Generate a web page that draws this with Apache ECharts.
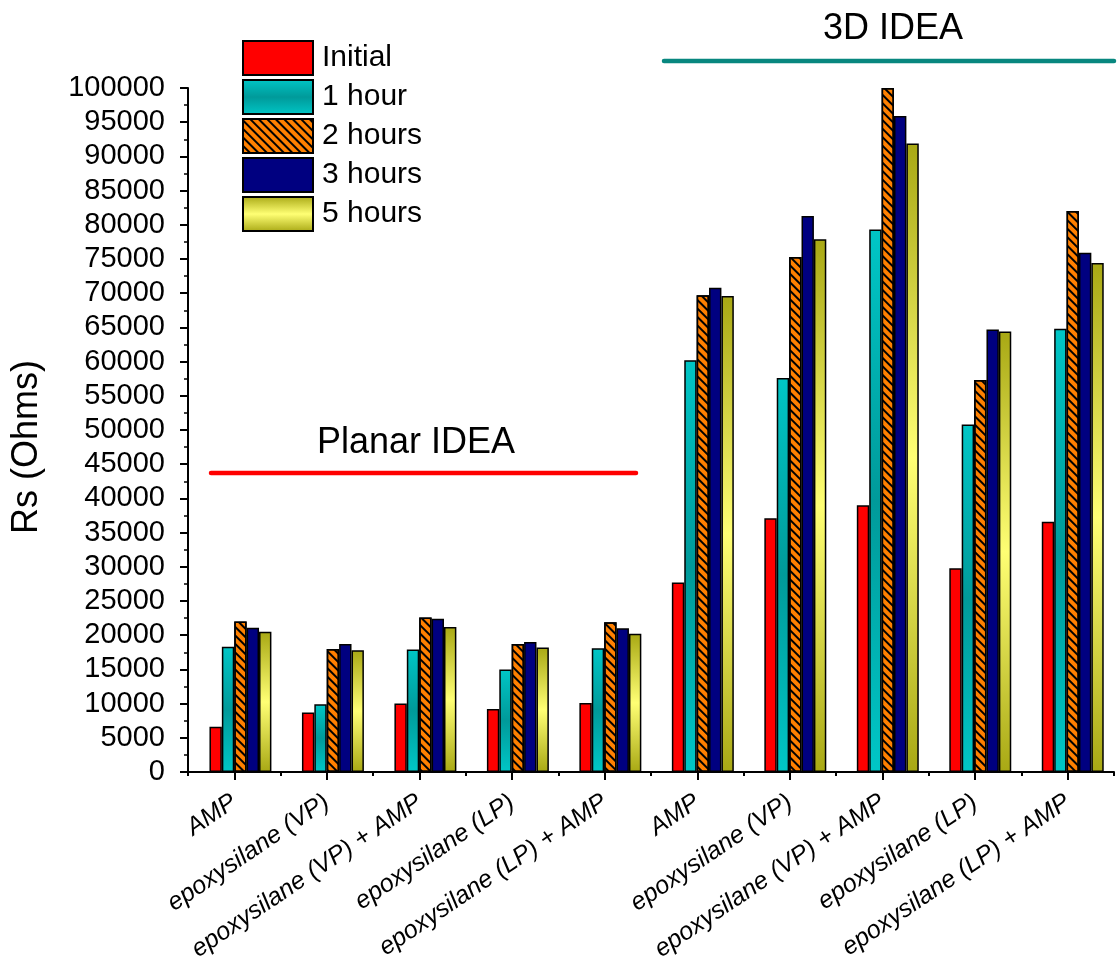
<!DOCTYPE html>
<html>
<head>
<meta charset="utf-8">
<title>Rs (Ohms)</title>
<script src="https://cdn.jsdelivr.net/npm/echarts@6/dist/echarts.min.js"></script>
<style>
  html, body { margin: 0; padding: 0; background: #ffffff; }
  #chart { width: 1119px; height: 972px; }
</style>
</head>
<body>
<div id="chart"></div>
<script>
// Sample treatments: first five on planar IDEA electrodes, last five on 3D IDEA electrodes
const categories = [
  'AMP', 'epoxysilane (VP)', 'epoxysilane (VP) + AMP', 'epoxysilane (LP)', 'epoxysilane (LP) + AMP',
  'AMP', 'epoxysilane (VP)', 'epoxysilane (VP) + AMP', 'epoxysilane (LP)', 'epoxysilane (LP) + AMP'
];
const seriesNames = ['Initial', '1 hour', '2 hours', '3 hours', '5 hours'];

// Rs in Ohms for each time point
const initialValues = [6600, 8700, 10000, 9200, 10100, 27700, 37100, 39000, 29800, 36600];
const hour1Values   = [18300, 9900, 17900, 15000, 18100, 60200, 57600, 79300, 50800, 64800];
const hours2Values  = [22000, 18000, 22600, 18700, 21900, 69700, 75300, 100000, 57300, 82000];
const hours3Values  = [21100, 18700, 22400, 19000, 21000, 70800, 81300, 95900, 64700, 75900];
const hours5Values  = [20500, 17800, 21200, 18200, 20200, 69600, 77900, 91900, 64400, 74400];

// Value axis range and tick step
const yMin = 0;
const yMax = 100000;
const yStep = 5000;

const groupLabels = { planar: 'Planar IDEA', threeD: '3D IDEA' };
const yTitle = 'Rs (Ohms)';

const FONT = '"Liberation Sans", Arial, Helvetica, sans-serif';

const chart = echarts.init(document.getElementById('chart'), null, { renderer: 'canvas' });

// Plot frame shared by the visible axes and the (half-bar shifted) bar grid
const plotLeft = 188;
const plotWidth = 926;
const plotTop = 88;
const plotHeight = 684;
const barShift = 6.2;

const edge = { borderColor: '#000000', borderWidth: 1.5 };

function vGrad(stops) {
  return {
    type: 'linear', x: 0, y: 0, x2: 0, y2: 1,
    colorStops: stops.map((c, i) => ({ offset: i / (stops.length - 1), color: c }))
  };
}

function barSeries(name, data, style) {
  return {
    name: name,
    type: 'bar',
    xAxisIndex: 2,
    yAxisIndex: 1,
    data: data,
    barGap: '0%',
    barCategoryGap: '33%',
    itemStyle: Object.assign({}, edge, style),
    emphasis: { disabled: true }
  };
}

const series = [
  barSeries(seriesNames[0], initialValues, { color: '#ff0000' }),
  barSeries(seriesNames[1], hour1Values, { color: vGrad(['#00c6c6', '#009a9a', '#00c6c6']) }),
  barSeries(seriesNames[2], hours2Values, {
    color: '#ff8000',
    decal: {
      symbol: 'rect',
      symbolSize: 1,
      dashArrayX: [1, 0],
      dashArrayY: [2, 4],
      rotation: Math.PI / 4,
      color: '#000000'
    }
  }),
  barSeries(seriesNames[3], hours3Values, { color: '#000080' }),
  barSeries(seriesNames[4], hours5Values, { color: vGrad(['#a8a814', '#ffff74', '#a8a814']) })
];

const axisLineStyle = { color: '#000000', width: 2 };

const option = {
  backgroundColor: '#ffffff',
  animation: false,
  textStyle: { fontFamily: FONT, color: '#000000' },
  legend: {
    data: seriesNames,
    orient: 'vertical',
    left: 242,
    top: 40,
    padding: 0,
    icon: 'rect',
    itemWidth: 70,
    itemHeight: 34,
    itemGap: 3,
    selectedMode: false,
    itemStyle: { borderColor: '#000000', borderWidth: 2 },
    textStyle: { fontFamily: FONT, fontSize: 30, color: '#000000', padding: [0, 0, 0, 4] }
  },
  grid: [
    { left: plotLeft, top: plotTop, width: plotWidth, height: plotHeight, containLabel: false },
    { left: plotLeft + barShift, top: plotTop, width: plotWidth, height: plotHeight, containLabel: false }
  ],
  xAxis: [
    {
      gridIndex: 0,
      type: 'category',
      data: categories,
      position: 'bottom',
      axisLine: { show: true, lineStyle: axisLineStyle },
      axisTick: { show: true, alignWithLabel: true, length: 8, lineStyle: { color: '#000', width: 2 } },
      axisLabel: {
        interval: 0,
        rotate: 34,
        margin: 28,
        fontFamily: FONT,
        fontStyle: 'italic',
        fontSize: 25,
        color: '#000000'
      },
      splitLine: { show: false }
    },
    {
      // boundary ticks between the categories
      gridIndex: 0,
      type: 'category',
      data: categories,
      position: 'bottom',
      axisLine: { show: false },
      axisTick: { show: true, alignWithLabel: false, interval: 0, length: 4, lineStyle: { color: '#000', width: 2 } },
      axisLabel: { show: false },
      splitLine: { show: false }
    },
    {
      gridIndex: 1,
      type: 'category',
      data: categories,
      show: false
    }
  ],
  yAxis: [
    {
      gridIndex: 0,
      type: 'value',
      min: yMin,
      max: yMax,
      interval: yStep,
      name: yTitle,
      nameLocation: 'middle',
      nameRotate: 90,
      nameGap: 143,
      nameTextStyle: { fontFamily: FONT, fontSize: 36, color: '#000000', padding: [0, 34, 0, 0] },
      axisLine: { show: true, lineStyle: axisLineStyle },
      axisTick: { show: true, length: 8, lineStyle: { color: '#000', width: 2 } },
      minorTick: { show: true, splitNumber: 2, length: 4, lineStyle: { color: '#000', width: 1.5 } },
      axisLabel: {
        fontFamily: FONT, fontSize: 29, color: '#000000', margin: 23,
        formatter: v => String(v)
      },
      splitLine: { show: false }
    },
    {
      gridIndex: 1,
      type: 'value',
      min: yMin,
      max: yMax,
      interval: yStep,
      show: false,
      splitLine: { show: false }
    }
  ],
  graphic: [
    {
      type: 'text', x: 893, y: 29,
      style: { text: groupLabels.threeD, fontFamily: FONT, fontSize: 36, fill: '#000000', align: 'center', verticalAlign: 'middle' }
    },
    {
      type: 'line',
      shape: { x1: 664, y1: 61, x2: 1114, y2: 61 },
      style: { stroke: '#08877f', lineWidth: 4.5, lineCap: 'round' }
    },
    {
      type: 'text', x: 416, y: 443.5,
      style: { text: groupLabels.planar, fontFamily: FONT, fontSize: 36, fill: '#000000', align: 'center', verticalAlign: 'middle' }
    },
    {
      type: 'line',
      shape: { x1: 211, y1: 473, x2: 636, y2: 473 },
      style: { stroke: '#ff0000', lineWidth: 4.5, lineCap: 'round' }
    }
  ],
  series: series
};

chart.setOption(option);
</script>
</body>
</html>
